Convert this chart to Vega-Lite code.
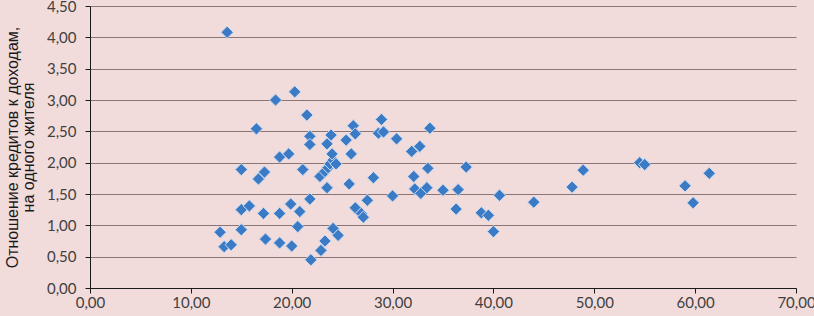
{
  "$schema": "https://vega.github.io/schema/vega-lite/v6.json",
  "autosize": "none",
  "width": 706,
  "height": 282,
  "padding": {"left": 90, "top": 6, "right": 18, "bottom": 28},
  "background": "#F2DCDB",
  "config": {"view": {"stroke": null}},
  "data": {"values": [
    {"x": 13.6, "y": 4.08}, {"x": 12.9, "y": 0.89}, {"x": 13.3, "y": 0.66}, {"x": 14.0, "y": 0.69},
    {"x": 15.0, "y": 1.89}, {"x": 15.0, "y": 1.25}, {"x": 15.8, "y": 1.31}, {"x": 15.0, "y": 0.93},
    {"x": 16.5, "y": 2.54}, {"x": 16.7, "y": 1.74}, {"x": 17.3, "y": 1.85}, {"x": 17.2, "y": 1.19},
    {"x": 17.4, "y": 0.78}, {"x": 18.4, "y": 3.00}, {"x": 18.8, "y": 2.09}, {"x": 19.7, "y": 2.14},
    {"x": 18.8, "y": 1.19}, {"x": 18.8, "y": 0.72}, {"x": 19.9, "y": 1.34}, {"x": 20.0, "y": 0.67},
    {"x": 20.3, "y": 3.13}, {"x": 20.6, "y": 0.98}, {"x": 20.8, "y": 1.22}, {"x": 21.1, "y": 1.89},
    {"x": 21.5, "y": 2.76}, {"x": 21.8, "y": 2.42}, {"x": 21.8, "y": 2.29}, {"x": 21.8, "y": 1.42},
    {"x": 21.9, "y": 0.45}, {"x": 22.8, "y": 1.78}, {"x": 23.3, "y": 1.86}, {"x": 23.6, "y": 1.92},
    {"x": 23.8, "y": 1.98}, {"x": 24.1, "y": 2.04}, {"x": 24.4, "y": 1.98}, {"x": 24.0, "y": 2.14},
    {"x": 23.5, "y": 2.30}, {"x": 23.9, "y": 2.44}, {"x": 23.5, "y": 1.60}, {"x": 22.9, "y": 0.60},
    {"x": 23.3, "y": 0.75}, {"x": 24.1, "y": 0.95}, {"x": 24.6, "y": 0.84}, {"x": 25.4, "y": 2.36},
    {"x": 26.1, "y": 2.59}, {"x": 26.3, "y": 2.46}, {"x": 25.9, "y": 2.14}, {"x": 25.7, "y": 1.66},
    {"x": 26.3, "y": 1.28}, {"x": 26.9, "y": 1.19}, {"x": 27.1, "y": 1.13}, {"x": 27.5, "y": 1.40},
    {"x": 28.1, "y": 1.76}, {"x": 28.6, "y": 2.47}, {"x": 28.9, "y": 2.69}, {"x": 29.1, "y": 2.49},
    {"x": 30.0, "y": 1.47}, {"x": 30.4, "y": 2.38}, {"x": 31.9, "y": 2.18}, {"x": 32.7, "y": 2.26},
    {"x": 32.1, "y": 1.78}, {"x": 32.2, "y": 1.58}, {"x": 32.8, "y": 1.51}, {"x": 33.4, "y": 1.60},
    {"x": 33.5, "y": 1.91}, {"x": 33.7, "y": 2.55}, {"x": 35.0, "y": 1.56}, {"x": 36.3, "y": 1.26},
    {"x": 36.5, "y": 1.57}, {"x": 37.3, "y": 1.93}, {"x": 38.8, "y": 1.20}, {"x": 39.5, "y": 1.16},
    {"x": 40.0, "y": 0.90}, {"x": 40.6, "y": 1.48}, {"x": 44.0, "y": 1.37}, {"x": 47.8, "y": 1.61},
    {"x": 48.9, "y": 1.88}, {"x": 54.5, "y": 2.00}, {"x": 55.0, "y": 1.97}, {"x": 59.0, "y": 1.63},
    {"x": 59.8, "y": 1.36}, {"x": 61.4, "y": 1.83}
  ]},
  "mark": {"type": "point", "shape": "diamond", "filled": true, "size": 150, "fill": "#3B7BC6", "stroke": "#C9D9EE", "strokeWidth": 1, "opacity": 1},
  "encoding": {
    "x": {
      "field": "x", "type": "quantitative",
      "scale": {"domain": [0, 70], "nice": false, "zero": false},
      "axis": {
        "values": [0, 10, 20, 30, 40, 50, 60, 70],
        "labelExpr": "replace(format(datum.value, '.2f'), '.', ',')",
        "grid": false, "domainColor": "#1a1a1a", "tickColor": "#1a1a1a", "tickSize": 5,
        "labelFont": "Lato", "labelFontSize": 15, "labelColor": "#404040", "labelPadding": 2,
        "labelFlush": false, "labelOverlap": false, "title": null
      }
    },
    "y": {
      "field": "y", "type": "quantitative",
      "scale": {"domain": [0, 4.5], "nice": false},
      "axis": {
        "values": [0, 0.5, 1, 1.5, 2, 2.5, 3, 3.5, 4, 4.5],
        "labelExpr": "replace(format(datum.value, '.2f'), '.', ',')",
        "grid": true, "gridColor": "#8A7575", "gridWidth": 1,
        "domainColor": "#1a1a1a", "tickColor": "#1a1a1a", "tickSize": 5,
        "labelFont": "Lato", "labelFontSize": 15, "labelColor": "#404040", "labelPadding": 9,
        "labelFlush": false, "labelOverlap": false,
        "title": ["Отношение кредитов к доходам,", "на одного жителя"],
        "titleFont": "Liberation Sans", "titleFontSize": 16, "titleFontWeight": "normal",
        "titleColor": "#1a1a1a", "titleLineHeight": 16, "titlePadding": 10
      }
    }
  }
}
